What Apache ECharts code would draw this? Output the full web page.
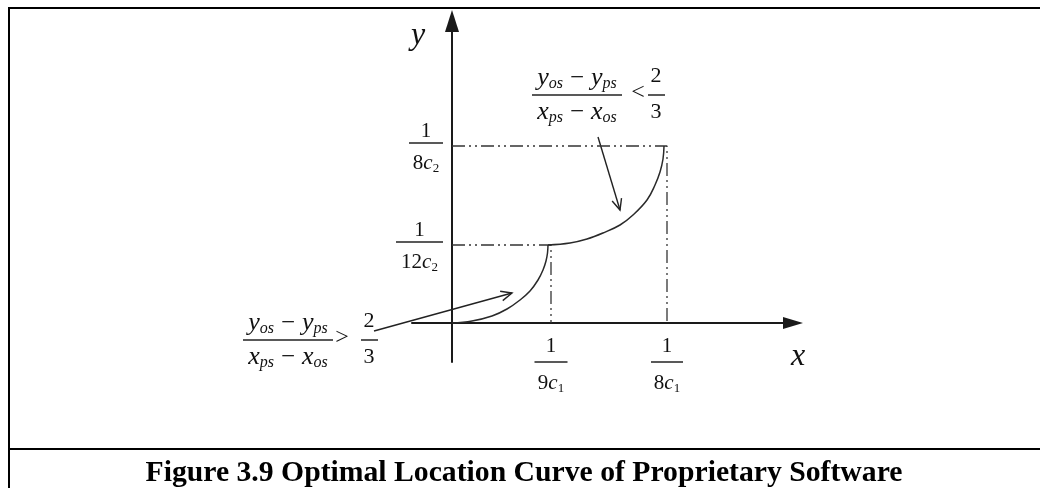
<!DOCTYPE html>
<html>
<head>
<meta charset="utf-8">
<script src="https://cdn.jsdelivr.net/npm/echarts@6/dist/echarts.min.js"></script>
<style>
  html, body { margin: 0; padding: 0; background: #fff; }
  #chart { width: 1040px; height: 488px; }
</style>
</head>
<body>
<div id="chart"></div>
<script>
// Schematic axis extent (arbitrary units, origin at 0)
const xRange = [-4, 34.1];
const yRange = [-3.9, 30.2];

// Critical locations on each axis and their fraction denominators
const xTicks = [9.9, 21.5];          // 1/(9c1), 1/(8c1)
const xTickDen = ['9', '8'];
const yTicks = [7.8, 17.7];          // 1/(12c2), 1/(8c2)
const yTickDen = ['12', '8'];

// Lower branch of the optimal location curve (slope > 2/3)
const lowerCurve = [
  [0, 0], [2.0, 0.2], [4.0, 0.7], [5.5, 1.4], [6.8, 2.3], [7.8, 3.2],
  [8.6, 4.3], [9.1, 5.3], [9.4, 6.2], [9.55, 7.0], [9.6, 7.8]
];
// Upper branch (slope < 2/3)
const upperCurve = [
  [9.6, 7.8], [11.8, 8.0], [13.5, 8.4], [15.1, 9.0], [16.8, 9.8], [18.1, 10.8],
  [19.5, 12.3], [20.3, 13.8], [20.8, 15.1], [21.1, 16.4], [21.2, 17.7]
];

// Pointer arrows from the slope conditions to each branch: [x0, y0, x1, y1]
const pointers = [
  [-7.8, -0.8, 6.0, 3.0],
  [14.6, 18.6, 16.8, 11.3]
];

const FONT = "'Liberation Serif', 'Times New Roman', serif";
const INK = '#111';

// Dash-dot-dot reference lines through the critical points
const guideLow = [[0, yTicks[0]], [xTicks[0], yTicks[0]], [xTicks[0], 0]];
const guideHigh = [[0, yTicks[1]], [xTicks[1], yTicks[1]], [xTicks[1], 0]];

function nearestIndex(arr, v) {
  let best = 0;
  arr.forEach((a, i) => { if (Math.abs(a - v) < Math.abs(arr[best] - v)) best = i; });
  return best;
}

const xBarW = [33, 32];
const yBarW = [47, 34];

function fracRich(numLH, denLH, barWidths) {
  const r = {
    n: { fontFamily: FONT, fontSize: 21, color: INK, lineHeight: numLH, align: 'center' },
    d: { fontFamily: FONT, fontSize: 21, color: INK, lineHeight: denLH, align: 'center' },
    c: { fontFamily: FONT, fontSize: 21, fontStyle: 'italic', color: INK, lineHeight: denLH, align: 'center' },
    s: { fontFamily: FONT, fontSize: 13, color: INK, align: 'center', padding: [11, 0, 0, 0] }
  };
  barWidths.forEach((w, i) => {
    r['b' + i] = { width: w, height: 1.5, lineHeight: 2, backgroundColor: '#222', align: 'center' };
  });
  return r;
}

// Rich-text pieces for the slope conditions
const condRich = {
  v: { fontFamily: FONT, fontStyle: 'italic', fontSize: 26, fill: INK },
  s: { fontFamily: FONT, fontStyle: 'italic', fontSize: 16, fill: INK, padding: [12, 0, 0, 0] },
  m: { fontFamily: FONT, fontSize: 25, fill: INK, padding: [0, 7, 0, 7] }
};
const numText = '{v|y}{s|os}{m|\u2212}{v|y}{s|ps}';
const denText = '{v|x}{s|ps}{m|\u2212}{v|x}{s|os}';

function text(str, x, y, extra) {
  return {
    type: 'text', x: x, y: y, silent: true,
    style: Object.assign({
      text: str, align: 'center', verticalAlign: 'middle',
      fontFamily: FONT, fontSize: 22, fill: INK
    }, extra || {})
  };
}
function bar(x1, x2, y) {
  return {
    type: 'line', silent: true,
    shape: { x1: x1, y1: y, x2: x2, y2: y },
    style: { stroke: '#222', lineWidth: 1.5 }
  };
}
function condition(cx, rel, relX, twoX, numY, barY, denY, bx1, bx2) {
  return [
    text(numText, cx, numY, { rich: condRich }),
    bar(bx1, bx2, barY),
    text(denText, cx, denY, { rich: condRich }),
    text(rel, relX, barY - 2, { fontSize: 24 }),
    text('2', twoX, numY - 2, { fontSize: 22 }),
    bar(twoX - 8, twoX + 9, barY),
    text('3', twoX, denY, { fontSize: 22 })
  ];
}

const chart = echarts.init(document.getElementById('chart'), null, { renderer: 'canvas' });

chart.setOption({
  animation: false,
  backgroundColor: '#fff',
  grid: { left: 412, right: 247, top: 21, bottom: 126 },
  xAxis: {
    type: 'value', min: xRange[0], max: xRange[1],
    splitLine: { show: false },
    axisTick: { show: false },
    axisLine: {
      show: true, onZero: true,
      symbol: ['none', 'triangle'], symbolSize: [12, 20],
      lineStyle: { color: '#1a1a1a', width: 2 }
    },
    axisLabel: {
      customValues: xTicks,
      margin: -31,
      formatter: function (v) {
        const i = nearestIndex(xTicks, v);
        return '{n|1}\n{b' + i + '|}\n{d|' + xTickDen[i] + '}{c|c}{s|1}';
      },
      rich: fracRich(30, 40, xBarW)
    }
  },
  yAxis: {
    type: 'value', min: yRange[0], max: yRange[1],
    splitLine: { show: false },
    axisTick: { show: false },
    axisLine: {
      show: true, onZero: true,
      symbol: ['none', 'triangle'], symbolSize: [14, 22],
      lineStyle: { color: '#1a1a1a', width: 2 }
    },
    axisLabel: {
      customValues: yTicks,
      margin: -31,
      padding: [10, 0, 0, 0],
      formatter: function (v) {
        const i = nearestIndex(yTicks, v);
        return '{n|1}\n{b' + i + '|}\n{d|' + yTickDen[i] + '}{c|c}{s|2}';
      },
      rich: fracRich(22, 38, yBarW)
    }
  },
  series: [
    {
      name: 'guide-low', type: 'line', data: guideLow, showSymbol: false, silent: true,
      lineStyle: { color: '#333', width: 1.3, type: [13, 4, 2, 4, 2, 4] }
    },
    {
      name: 'guide-high', type: 'line', data: guideHigh, showSymbol: false, silent: true,
      lineStyle: { color: '#333', width: 1.3, type: [13, 4, 2, 4, 2, 4] }
    },
    {
      name: 'lower', type: 'line', data: lowerCurve, smooth: 0.4, showSymbol: false, silent: true,
      lineStyle: { color: '#2a2a2a', width: 1.5 }
    },
    {
      name: 'upper', type: 'line', data: upperCurve, smooth: 0.4, showSymbol: false, silent: true,
      lineStyle: { color: '#2a2a2a', width: 1.5 }
    },
    {
      name: 'pointers', type: 'custom', silent: true, clip: false,
      encode: { x: [0, 2], y: [1, 3] },
      data: pointers,
      renderItem: function (params, api) {
        const p0 = api.coord([api.value(0), api.value(1)]);
        const p1 = api.coord([api.value(2), api.value(3)]);
        const ang = Math.atan2(p1[1] - p0[1], p1[0] - p0[0]);
        const L = 12, spread = 0.42;
        const h1 = [p1[0] - L * Math.cos(ang - spread), p1[1] - L * Math.sin(ang - spread)];
        const h2 = [p1[0] - L * Math.cos(ang + spread), p1[1] - L * Math.sin(ang + spread)];
        const st = { stroke: '#222', lineWidth: 1.4, fill: null };
        return {
          type: 'group',
          children: [
            { type: 'polyline', shape: { points: [p0, p1] }, style: st },
            { type: 'polyline', shape: { points: [h1, p1, h2] }, style: st }
          ]
        };
      }
    }
  ],
  graphic: [
    // frame
    { type: 'rect', silent: true, shape: { x: 8, y: 7, width: 2, height: 481 }, style: { fill: '#000' } },
    { type: 'rect', silent: true, shape: { x: 8, y: 7, width: 1032, height: 2 }, style: { fill: '#000' } },
    { type: 'rect', silent: true, shape: { x: 8, y: 448, width: 1032, height: 2 }, style: { fill: '#000' } },
    // axis names
    text('y', 418, 36, { fontSize: 32, fontStyle: 'italic' }),
    text('x', 798, 357, { fontSize: 32, fontStyle: 'italic' }),
    // slope conditions
    ...condition(577, '<', 638, 656, 78, 95, 112, 532, 622),
    ...condition(288, '>', 342, 369, 323, 340, 357, 243, 333),
    // caption
    text('Figure 3.9 Optimal Location Curve of Proprietary Software', 524, 473,
      { fontSize: 29.7, fontWeight: 'bold', fill: '#000' })
  ]
});
</script>
</body>
</html>
